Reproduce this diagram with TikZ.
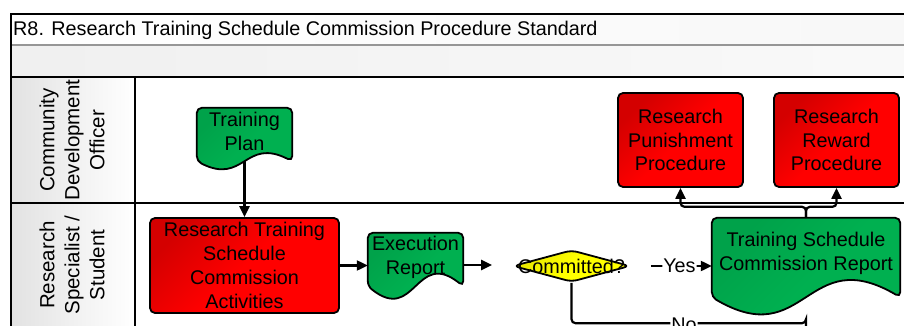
\documentclass[tikz,border=0pt]{standalone}
\usepackage{fontspec}
\setmainfont{Liberation Sans}
\usetikzlibrary{calc,arrows.meta,shapes.geometric}
\pgfdeclarelayer{back}
\pgfdeclarelayer{conn}
\pgfsetlayers{back,conn,main}
\definecolor{rdk}{RGB}{212,0,0}
\definecolor{rbr}{RGB}{255,0,0}
\definecolor{gdk}{RGB}{0,162,74}
\definecolor{gbr}{RGB}{0,176,80}
\definecolor{ydk}{RGB}{232,232,0}
\definecolor{ybr}{RGB}{255,255,0}
\definecolor{hdr}{RGB}{226,226,226}
\definecolor{sepgray}{RGB}{150,150,150}
\newcommand{\docshape}[3]{%
  \path[#2] (#1.west) -- (#1.north west) -- (#1.north east) -- ($(#1.south east)+(0,-#3)$)
   .. controls ($(#1.south)+(0,{-#3-3.46*#3})$) and ($(#1.south)+(0,{-#3+3.46*#3})$) .. ($(#1.south west)+(0,-#3)$) -- cycle;
}
\tikzset{
  base/.style={font=\fontsize{19.8}{23.8}\selectfont, align=center, inner sep=0pt},
  redbox/.style={base, draw, line width=1.8pt, rounded corners=5pt,
    top color=rdk, bottom color=rbr, middle color=rbr, shading angle=45},
  docfill/.style={draw, line width=1.8pt, rounded corners=5pt,
    top color=gdk, bottom color=gbr, middle color=gbr, shading angle=45},
  docnode/.style={base, rectangle, draw=none},
  decision/.style={diamond, draw, line width=1.8pt, rounded corners=6pt, inner sep=0pt,
    top color=ydk, bottom color=ybr, middle color=ybr, shading angle=45},
  conn/.style={line width=2.2pt, -{Triangle[length=11pt,width=10pt]}, rounded corners=4pt},
  lanelabel/.style={font=\fontsize{20.5}{25}\selectfont, align=center, inner sep=0pt, rotate=90},
  edgelabel/.style={font=\fontsize{19.8}{23.8}\selectfont, fill=white, inner sep=1pt},
  frameline/.style={line width=2.2pt, black}
}
\begin{document}
\begin{tikzpicture}[x=1pt,y=-1pt]
\useasboundingbox (0,0) rectangle (904,326);
\clip (0,0) rectangle (904,326);
% backgrounds and frame
\begin{pgfonlayer}{back}
  \fill[white] (0,0) rectangle (904,326);
  \shade[left color=white, right color=white!97!black] (11,14) rectangle (940,45);
  \shade[left color=white!94!black, right color=white!98!black] (11,45) rectangle (940,77);
  \shade[left color=hdr, right color=white] (11,77) rectangle (135,360);
  \draw[line width=2pt, sepgray] (11,45) -- (940,45);
  \draw[frameline] (11,77) -- (940,77);
  \draw[frameline] (11,203) -- (940,203);
  \draw[frameline] (135,77) -- (135,360);
  \draw[frameline] (11,14) rectangle (940,360);
\end{pgfonlayer}
% title and lane labels
\node[base, anchor=west] (title) at (13,30) {R8. Research Training Schedule Commission Procedure Standard};
\node[lanelabel] (lane1) at (72,140) {Community\\Development\\Officer};
\node[lanelabel] (lane2) at (72,265) {Research\\Specialist /\\Student};
% Training Plan document
\node[docnode, minimum width=95pt, minimum height=60pt] (tp) at (244.5,138) {};
\docshape{tp}{docfill}{7}
\node[base] (tpt) at (244.5,131.5) {Training\\Plan};
% Research Training box
\node[redbox, minimum width=189pt, minimum height=95pt] (rt) at (244.5,265.5) {Research Training\\Schedule\\Commission\\Activities};
% Execution Report document
\node[docnode, minimum width=95pt, minimum height=64pt] (er) at (415.5,265) {};
\docshape{er}{docfill}{11}
\node[base] (ert) at (415.5,257) {Execution\\Report};
% Decision
\node[decision, minimum width=117pt, minimum height=32pt] (dm) at (571.5,266) {};
\node[base] (dmt) at (571.5,266) {Committed?};
% Training Schedule Commission Report document
\node[docnode, minimum width=188pt, minimum height=95pt] (tsr) at (806,265.5) {};
\docshape{tsr}{docfill}{16}
\node[base] (tsrt) at (806,253.5) {Training Schedule\\Commission Report};
% Procedures
\node[redbox, minimum width=125pt, minimum height=94pt] (pun) at (680.5,140) {Research\\Punishment\\Procedure};
\node[redbox, minimum width=125pt, minimum height=94pt] (rew) at (836.5,140) {Research\\Reward\\Procedure};
% connectors
\begin{pgfonlayer}{conn}
  \draw[conn] (tp.center) -- (rt.north);
  \draw[conn] (rt.east) -- (rt.east -| er.west);
  \draw[conn, shorten >=20pt] (er.east) -- (er.east -| dm.west);
  \draw[conn, shorten <=20pt] (dm.east) -- node[edgelabel, pos=0.6] (yes) {Yes} (dm.east -| tsr.west);
  \draw[conn, shorten >=12pt] (dm.south) |- node[edgelabel, pos=0.74, yshift=-2pt] (no) {No} ([yshift=-10pt]tsr.south) -- (tsr.south);
  \draw[conn] (tsr.north) -- ([yshift=11pt]tsr.north) -| (pun.south);
  \draw[conn] (tsr.north) -- ([yshift=11pt]tsr.north) -| (rew.south);
\end{pgfonlayer}
\end{tikzpicture}
\end{document}
